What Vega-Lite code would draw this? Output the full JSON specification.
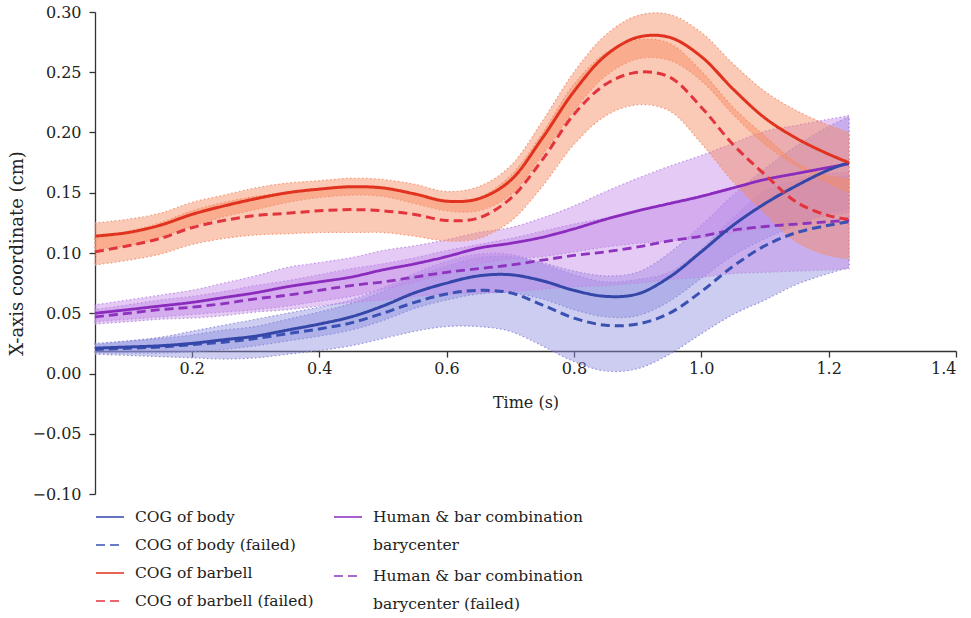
{
  "$schema": "https://vega.github.io/schema/vega-lite/v6.json",
  "width": 861,
  "height": 482,
  "autosize": {"type": "none"},
  "padding": {"left": 95, "top": 12, "right": 15, "bottom": 124},
  "config": {
    "font": "DejaVu Serif",
    "view": {"stroke": null},
    "axis": {"domainColor": "#333", "domainWidth": 1.3, "tickColor": "#333", "tickWidth": 1.3, "tickSize": 6, "labelFont": "DejaVu Serif", "labelFontSize": 16, "labelColor": "#222", "titleFont": "DejaVu Serif", "titleFontSize": 16, "titleFontWeight": "normal", "titleColor": "#222", "grid": false},
    "legend": {"labelFont": "DejaVu Serif", "labelFontSize": 15.5, "labelColor": "#222", "labelLimit": 400}
  },
  "data": {"values": [
    {"t": 0.048, "series": "COG of body (failed)", "v": 0.020, "lo": 0.016, "hi": 0.024},
    {"t": 0.1, "series": "COG of body (failed)", "v": 0.021, "lo": 0.015, "hi": 0.027},
    {"t": 0.15, "series": "COG of body (failed)", "v": 0.022, "lo": 0.014, "hi": 0.030},
    {"t": 0.2, "series": "COG of body (failed)", "v": 0.024, "lo": 0.013, "hi": 0.035},
    {"t": 0.25, "series": "COG of body (failed)", "v": 0.026, "lo": 0.012, "hi": 0.040},
    {"t": 0.3, "series": "COG of body (failed)", "v": 0.029, "lo": 0.013, "hi": 0.045},
    {"t": 0.35, "series": "COG of body (failed)", "v": 0.033, "lo": 0.016, "hi": 0.050},
    {"t": 0.4, "series": "COG of body (failed)", "v": 0.037, "lo": 0.019, "hi": 0.055},
    {"t": 0.45, "series": "COG of body (failed)", "v": 0.042, "lo": 0.023, "hi": 0.061},
    {"t": 0.5, "series": "COG of body (failed)", "v": 0.050, "lo": 0.029, "hi": 0.071},
    {"t": 0.55, "series": "COG of body (failed)", "v": 0.059, "lo": 0.035, "hi": 0.083},
    {"t": 0.6, "series": "COG of body (failed)", "v": 0.066, "lo": 0.039, "hi": 0.093},
    {"t": 0.65, "series": "COG of body (failed)", "v": 0.069, "lo": 0.039, "hi": 0.099},
    {"t": 0.7, "series": "COG of body (failed)", "v": 0.067, "lo": 0.035, "hi": 0.099},
    {"t": 0.75, "series": "COG of body (failed)", "v": 0.057, "lo": 0.023, "hi": 0.091},
    {"t": 0.8, "series": "COG of body (failed)", "v": 0.046, "lo": 0.010, "hi": 0.082},
    {"t": 0.85, "series": "COG of body (failed)", "v": 0.040, "lo": 0.002, "hi": 0.076},
    {"t": 0.9, "series": "COG of body (failed)", "v": 0.041, "lo": 0.004, "hi": 0.078},
    {"t": 0.95, "series": "COG of body (failed)", "v": 0.050, "lo": 0.016, "hi": 0.084},
    {"t": 1.0, "series": "COG of body (failed)", "v": 0.068, "lo": 0.033, "hi": 0.103},
    {"t": 1.05, "series": "COG of body (failed)", "v": 0.089, "lo": 0.049, "hi": 0.129},
    {"t": 1.1, "series": "COG of body (failed)", "v": 0.106, "lo": 0.061, "hi": 0.151},
    {"t": 1.15, "series": "COG of body (failed)", "v": 0.117, "lo": 0.074, "hi": 0.160},
    {"t": 1.2, "series": "COG of body (failed)", "v": 0.123, "lo": 0.083, "hi": 0.163},
    {"t": 1.232, "series": "COG of body (failed)", "v": 0.126, "lo": 0.088, "hi": 0.164},

    {"t": 0.048, "series": "COG of body", "v": 0.021, "lo": 0.017, "hi": 0.025},
    {"t": 0.1, "series": "COG of body", "v": 0.022, "lo": 0.017, "hi": 0.027},
    {"t": 0.15, "series": "COG of body", "v": 0.023, "lo": 0.017, "hi": 0.029},
    {"t": 0.2, "series": "COG of body", "v": 0.025, "lo": 0.018, "hi": 0.032},
    {"t": 0.25, "series": "COG of body", "v": 0.028, "lo": 0.020, "hi": 0.036},
    {"t": 0.3, "series": "COG of body", "v": 0.031, "lo": 0.023, "hi": 0.039},
    {"t": 0.35, "series": "COG of body", "v": 0.036, "lo": 0.027, "hi": 0.045},
    {"t": 0.4, "series": "COG of body", "v": 0.041, "lo": 0.031, "hi": 0.051},
    {"t": 0.45, "series": "COG of body", "v": 0.047, "lo": 0.036, "hi": 0.058},
    {"t": 0.5, "series": "COG of body", "v": 0.056, "lo": 0.044, "hi": 0.068},
    {"t": 0.55, "series": "COG of body", "v": 0.067, "lo": 0.054, "hi": 0.080},
    {"t": 0.6, "series": "COG of body", "v": 0.075, "lo": 0.061, "hi": 0.089},
    {"t": 0.65, "series": "COG of body", "v": 0.081, "lo": 0.066, "hi": 0.096},
    {"t": 0.7, "series": "COG of body", "v": 0.082, "lo": 0.067, "hi": 0.097},
    {"t": 0.75, "series": "COG of body", "v": 0.077, "lo": 0.062, "hi": 0.092},
    {"t": 0.8, "series": "COG of body", "v": 0.069, "lo": 0.053, "hi": 0.085},
    {"t": 0.85, "series": "COG of body", "v": 0.064, "lo": 0.047, "hi": 0.081},
    {"t": 0.9, "series": "COG of body", "v": 0.066, "lo": 0.048, "hi": 0.084},
    {"t": 0.95, "series": "COG of body", "v": 0.080, "lo": 0.060, "hi": 0.100},
    {"t": 1.0, "series": "COG of body", "v": 0.101, "lo": 0.079, "hi": 0.123},
    {"t": 1.05, "series": "COG of body", "v": 0.123, "lo": 0.098, "hi": 0.148},
    {"t": 1.1, "series": "COG of body", "v": 0.141, "lo": 0.112, "hi": 0.170},
    {"t": 1.15, "series": "COG of body", "v": 0.156, "lo": 0.123, "hi": 0.189},
    {"t": 1.2, "series": "COG of body", "v": 0.169, "lo": 0.133, "hi": 0.205},
    {"t": 1.232, "series": "COG of body", "v": 0.175, "lo": 0.137, "hi": 0.213},

    {"t": 0.048, "series": "Human & bar combination barycenter (failed)", "v": 0.047, "lo": 0.041, "hi": 0.053},
    {"t": 0.1, "series": "Human & bar combination barycenter (failed)", "v": 0.050, "lo": 0.043, "hi": 0.057},
    {"t": 0.15, "series": "Human & bar combination barycenter (failed)", "v": 0.053, "lo": 0.045, "hi": 0.061},
    {"t": 0.2, "series": "Human & bar combination barycenter (failed)", "v": 0.055, "lo": 0.046, "hi": 0.064},
    {"t": 0.25, "series": "Human & bar combination barycenter (failed)", "v": 0.058, "lo": 0.048, "hi": 0.068},
    {"t": 0.3, "series": "Human & bar combination barycenter (failed)", "v": 0.062, "lo": 0.051, "hi": 0.073},
    {"t": 0.35, "series": "Human & bar combination barycenter (failed)", "v": 0.065, "lo": 0.053, "hi": 0.077},
    {"t": 0.4, "series": "Human & bar combination barycenter (failed)", "v": 0.069, "lo": 0.056, "hi": 0.082},
    {"t": 0.45, "series": "Human & bar combination barycenter (failed)", "v": 0.073, "lo": 0.059, "hi": 0.087},
    {"t": 0.5, "series": "Human & bar combination barycenter (failed)", "v": 0.076, "lo": 0.061, "hi": 0.091},
    {"t": 0.55, "series": "Human & bar combination barycenter (failed)", "v": 0.080, "lo": 0.064, "hi": 0.096},
    {"t": 0.6, "series": "Human & bar combination barycenter (failed)", "v": 0.084, "lo": 0.066, "hi": 0.102},
    {"t": 0.65, "series": "Human & bar combination barycenter (failed)", "v": 0.087, "lo": 0.067, "hi": 0.107},
    {"t": 0.7, "series": "Human & bar combination barycenter (failed)", "v": 0.090, "lo": 0.068, "hi": 0.112},
    {"t": 0.75, "series": "Human & bar combination barycenter (failed)", "v": 0.094, "lo": 0.070, "hi": 0.118},
    {"t": 0.8, "series": "Human & bar combination barycenter (failed)", "v": 0.098, "lo": 0.072, "hi": 0.124},
    {"t": 0.85, "series": "Human & bar combination barycenter (failed)", "v": 0.101, "lo": 0.073, "hi": 0.129},
    {"t": 0.9, "series": "Human & bar combination barycenter (failed)", "v": 0.105, "lo": 0.075, "hi": 0.135},
    {"t": 0.95, "series": "Human & bar combination barycenter (failed)", "v": 0.110, "lo": 0.078, "hi": 0.142},
    {"t": 1.0, "series": "Human & bar combination barycenter (failed)", "v": 0.114, "lo": 0.080, "hi": 0.148},
    {"t": 1.05, "series": "Human & bar combination barycenter (failed)", "v": 0.119, "lo": 0.083, "hi": 0.155},
    {"t": 1.1, "series": "Human & bar combination barycenter (failed)", "v": 0.122, "lo": 0.084, "hi": 0.160},
    {"t": 1.15, "series": "Human & bar combination barycenter (failed)", "v": 0.124, "lo": 0.085, "hi": 0.163},
    {"t": 1.2, "series": "Human & bar combination barycenter (failed)", "v": 0.126, "lo": 0.086, "hi": 0.166},
    {"t": 1.232, "series": "Human & bar combination barycenter (failed)", "v": 0.127, "lo": 0.087, "hi": 0.167},

    {"t": 0.048, "series": "Human & bar combination barycenter", "v": 0.050, "lo": 0.043, "hi": 0.057},
    {"t": 0.1, "series": "Human & bar combination barycenter", "v": 0.053, "lo": 0.045, "hi": 0.061},
    {"t": 0.15, "series": "Human & bar combination barycenter", "v": 0.056, "lo": 0.047, "hi": 0.065},
    {"t": 0.2, "series": "Human & bar combination barycenter", "v": 0.059, "lo": 0.049, "hi": 0.069},
    {"t": 0.25, "series": "Human & bar combination barycenter", "v": 0.063, "lo": 0.051, "hi": 0.075},
    {"t": 0.3, "series": "Human & bar combination barycenter", "v": 0.067, "lo": 0.053, "hi": 0.081},
    {"t": 0.35, "series": "Human & bar combination barycenter", "v": 0.072, "lo": 0.056, "hi": 0.088},
    {"t": 0.4, "series": "Human & bar combination barycenter", "v": 0.076, "lo": 0.060, "hi": 0.092},
    {"t": 0.45, "series": "Human & bar combination barycenter", "v": 0.080, "lo": 0.064, "hi": 0.096},
    {"t": 0.5, "series": "Human & bar combination barycenter", "v": 0.086, "lo": 0.070, "hi": 0.102},
    {"t": 0.55, "series": "Human & bar combination barycenter", "v": 0.091, "lo": 0.076, "hi": 0.106},
    {"t": 0.6, "series": "Human & bar combination barycenter", "v": 0.097, "lo": 0.083, "hi": 0.111},
    {"t": 0.65, "series": "Human & bar combination barycenter", "v": 0.104, "lo": 0.091, "hi": 0.117},
    {"t": 0.7, "series": "Human & bar combination barycenter", "v": 0.108, "lo": 0.095, "hi": 0.121},
    {"t": 0.75, "series": "Human & bar combination barycenter", "v": 0.113, "lo": 0.097, "hi": 0.129},
    {"t": 0.8, "series": "Human & bar combination barycenter", "v": 0.120, "lo": 0.101, "hi": 0.139},
    {"t": 0.85, "series": "Human & bar combination barycenter", "v": 0.128, "lo": 0.105, "hi": 0.151},
    {"t": 0.9, "series": "Human & bar combination barycenter", "v": 0.135, "lo": 0.108, "hi": 0.162},
    {"t": 0.95, "series": "Human & bar combination barycenter", "v": 0.141, "lo": 0.110, "hi": 0.172},
    {"t": 1.0, "series": "Human & bar combination barycenter", "v": 0.147, "lo": 0.113, "hi": 0.181},
    {"t": 1.05, "series": "Human & bar combination barycenter", "v": 0.154, "lo": 0.117, "hi": 0.191},
    {"t": 1.1, "series": "Human & bar combination barycenter", "v": 0.161, "lo": 0.121, "hi": 0.201},
    {"t": 1.15, "series": "Human & bar combination barycenter", "v": 0.166, "lo": 0.126, "hi": 0.206},
    {"t": 1.2, "series": "Human & bar combination barycenter", "v": 0.171, "lo": 0.131, "hi": 0.211},
    {"t": 1.232, "series": "Human & bar combination barycenter", "v": 0.174, "lo": 0.134, "hi": 0.214},

    {"t": 0.048, "series": "COG of barbell (failed)", "v": 0.101, "lo": 0.090, "hi": 0.112},
    {"t": 0.1, "series": "COG of barbell (failed)", "v": 0.106, "lo": 0.094, "hi": 0.118},
    {"t": 0.15, "series": "COG of barbell (failed)", "v": 0.112, "lo": 0.099, "hi": 0.125},
    {"t": 0.2, "series": "COG of barbell (failed)", "v": 0.121, "lo": 0.107, "hi": 0.135},
    {"t": 0.25, "series": "COG of barbell (failed)", "v": 0.127, "lo": 0.112, "hi": 0.142},
    {"t": 0.3, "series": "COG of barbell (failed)", "v": 0.131, "lo": 0.115, "hi": 0.147},
    {"t": 0.35, "series": "COG of barbell (failed)", "v": 0.133, "lo": 0.116, "hi": 0.150},
    {"t": 0.4, "series": "COG of barbell (failed)", "v": 0.135, "lo": 0.117, "hi": 0.153},
    {"t": 0.45, "series": "COG of barbell (failed)", "v": 0.136, "lo": 0.117, "hi": 0.155},
    {"t": 0.5, "series": "COG of barbell (failed)", "v": 0.135, "lo": 0.117, "hi": 0.154},
    {"t": 0.55, "series": "COG of barbell (failed)", "v": 0.132, "lo": 0.114, "hi": 0.150},
    {"t": 0.6, "series": "COG of barbell (failed)", "v": 0.127, "lo": 0.110, "hi": 0.144},
    {"t": 0.65, "series": "COG of barbell (failed)", "v": 0.129, "lo": 0.112, "hi": 0.146},
    {"t": 0.7, "series": "COG of barbell (failed)", "v": 0.145, "lo": 0.126, "hi": 0.164},
    {"t": 0.75, "series": "COG of barbell (failed)", "v": 0.177, "lo": 0.155, "hi": 0.199},
    {"t": 0.8, "series": "COG of barbell (failed)", "v": 0.215, "lo": 0.190, "hi": 0.240},
    {"t": 0.85, "series": "COG of barbell (failed)", "v": 0.240, "lo": 0.214, "hi": 0.266},
    {"t": 0.9, "series": "COG of barbell (failed)", "v": 0.250, "lo": 0.223, "hi": 0.277},
    {"t": 0.95, "series": "COG of barbell (failed)", "v": 0.246, "lo": 0.218, "hi": 0.274},
    {"t": 1.0, "series": "COG of barbell (failed)", "v": 0.221, "lo": 0.191, "hi": 0.251},
    {"t": 1.05, "series": "COG of barbell (failed)", "v": 0.190, "lo": 0.159, "hi": 0.221},
    {"t": 1.1, "series": "COG of barbell (failed)", "v": 0.165, "lo": 0.133, "hi": 0.197},
    {"t": 1.15, "series": "COG of barbell (failed)", "v": 0.142, "lo": 0.109, "hi": 0.175},
    {"t": 1.2, "series": "COG of barbell (failed)", "v": 0.131, "lo": 0.098, "hi": 0.164},
    {"t": 1.232, "series": "COG of barbell (failed)", "v": 0.128, "lo": 0.095, "hi": 0.161},

    {"t": 0.048, "series": "COG of barbell", "v": 0.114, "lo": 0.103, "hi": 0.125},
    {"t": 0.1, "series": "COG of barbell", "v": 0.117, "lo": 0.106, "hi": 0.128},
    {"t": 0.15, "series": "COG of barbell", "v": 0.123, "lo": 0.113, "hi": 0.133},
    {"t": 0.2, "series": "COG of barbell", "v": 0.132, "lo": 0.122, "hi": 0.142},
    {"t": 0.25, "series": "COG of barbell", "v": 0.139, "lo": 0.130, "hi": 0.148},
    {"t": 0.3, "series": "COG of barbell", "v": 0.145, "lo": 0.136, "hi": 0.154},
    {"t": 0.35, "series": "COG of barbell", "v": 0.150, "lo": 0.142, "hi": 0.158},
    {"t": 0.4, "series": "COG of barbell", "v": 0.153, "lo": 0.146, "hi": 0.160},
    {"t": 0.45, "series": "COG of barbell", "v": 0.155, "lo": 0.148, "hi": 0.162},
    {"t": 0.5, "series": "COG of barbell", "v": 0.154, "lo": 0.147, "hi": 0.161},
    {"t": 0.55, "series": "COG of barbell", "v": 0.149, "lo": 0.141, "hi": 0.157},
    {"t": 0.6, "series": "COG of barbell", "v": 0.143, "lo": 0.135, "hi": 0.151},
    {"t": 0.65, "series": "COG of barbell", "v": 0.145, "lo": 0.135, "hi": 0.155},
    {"t": 0.7, "series": "COG of barbell", "v": 0.160, "lo": 0.148, "hi": 0.172},
    {"t": 0.75, "series": "COG of barbell", "v": 0.195, "lo": 0.181, "hi": 0.209},
    {"t": 0.8, "series": "COG of barbell", "v": 0.234, "lo": 0.218, "hi": 0.250},
    {"t": 0.85, "series": "COG of barbell", "v": 0.264, "lo": 0.247, "hi": 0.281},
    {"t": 0.9, "series": "COG of barbell", "v": 0.279, "lo": 0.261, "hi": 0.297},
    {"t": 0.95, "series": "COG of barbell", "v": 0.279, "lo": 0.260, "hi": 0.298},
    {"t": 1.0, "series": "COG of barbell", "v": 0.263, "lo": 0.243, "hi": 0.283},
    {"t": 1.05, "series": "COG of barbell", "v": 0.236, "lo": 0.215, "hi": 0.257},
    {"t": 1.1, "series": "COG of barbell", "v": 0.212, "lo": 0.190, "hi": 0.234},
    {"t": 1.15, "series": "COG of barbell", "v": 0.195, "lo": 0.172, "hi": 0.218},
    {"t": 1.2, "series": "COG of barbell", "v": 0.182, "lo": 0.158, "hi": 0.206},
    {"t": 1.232, "series": "COG of barbell", "v": 0.175, "lo": 0.150, "hi": 0.200}
  ]},
  "encoding": {
    "x": {"field": "t", "type": "quantitative", "scale": {"domain": [0.048, 1.4], "nice": false, "zero": false},
      "axis": {"title": "Time (s)", "values": [0.2, 0.4, 0.6, 0.8, 1.0, 1.2, 1.4], "format": ".1f", "offset": -143, "labelPadding": 3, "titlePadding": 18}}
  },
  "layer": [
    {
      "mark": {"type": "area", "interpolate": "catmull-rom", "fillOpacity": 0.45, "strokeWidth": 1.2, "strokeDash": [1.5, 2.5], "strokeOpacity": 0.9},
      "encoding": {
        "y": {"field": "lo", "type": "quantitative", "scale": {"domain": [-0.1, 0.3], "nice": false},
          "axis": {"title": "X-axis coordinate (cm)", "values": [-0.1, -0.05, 0, 0.05, 0.1, 0.15, 0.2, 0.25, 0.3], "format": ".2f", "labelPadding": 8, "titlePadding": 5, "titleFontSize": 18}},
        "y2": {"field": "hi"},
        "fill": {"field": "series", "type": "nominal", "legend": null,
          "scale": {"domain": ["COG of body (failed)", "COG of body", "Human & bar combination barycenter (failed)", "Human & bar combination barycenter", "COG of barbell (failed)", "COG of barbell"],
            "range": ["#9090E0", "#9090E0", "#C48AE8", "#C48AE8", "#F78A5E", "#F78A5E"]}},
        "stroke": {"field": "series", "type": "nominal", "legend": null,
          "scale": {"domain": ["COG of body (failed)", "COG of body", "Human & bar combination barycenter (failed)", "Human & bar combination barycenter", "COG of barbell (failed)", "COG of barbell"],
            "range": ["#8A8AD8", "#8A8AD8", "#B88AE0", "#B88AE0", "#F4906E", "#F4906E"]}}
      }
    },
    {
      "transform": [{"filter": {"field": "series", "oneOf": ["Human & bar combination barycenter", "Human & bar combination barycenter (failed)"]}}],
      "mark": {"type": "line", "interpolate": "catmull-rom", "strokeWidth": 2.8},
      "encoding": {
        "y": {"field": "v", "type": "quantitative", "scale": {"domain": [-0.1, 0.3], "nice": false},
          "axis": {"title": "X-axis coordinate (cm)", "values": [-0.1, -0.05, 0, 0.05, 0.1, 0.15, 0.2, 0.25, 0.3], "format": ".2f", "labelPadding": 8, "titlePadding": 5, "titleFontSize": 18}},
        "color": {"field": "series", "type": "nominal",
          "scale": {"domain": ["Human & bar combination barycenter", "Human & bar combination barycenter (failed)"], "range": ["#8A2BBE", "#8E33BE"]},
          "legend": {"title": null, "orient": "none", "legendX": 238, "legendY": 490, "direction": "vertical", "symbolType": "stroke", "symbolSize": 784, "labelOffset": 10, "rowPadding": 7, "padding": 0,
            "labelExpr": "datum.label == 'Human & bar combination barycenter' ? ['Human & bar combination', 'barycenter'] : ['Human & bar combination', 'barycenter (failed)']",
            "encode": {"symbols": {"update": {"strokeWidth": {"value": 1.6}}}, "labels": {"update": {"lineHeight": {"value": 28}}}}}},
        "strokeDash": {"field": "series", "type": "nominal",
          "scale": {"domain": ["Human & bar combination barycenter", "Human & bar combination barycenter (failed)"], "range": [[1, 0], [9, 5]]},
          "legend": {"title": null, "orient": "none", "legendX": 238, "legendY": 490, "direction": "vertical", "symbolType": "stroke", "symbolSize": 784, "labelOffset": 10, "rowPadding": 7, "padding": 0,
            "labelExpr": "datum.label == 'Human & bar combination barycenter' ? ['Human & bar combination', 'barycenter'] : ['Human & bar combination', 'barycenter (failed)']",
            "encode": {"symbols": {"update": {"strokeWidth": {"value": 1.6}}}, "labels": {"update": {"lineHeight": {"value": 28}}}}}}
      }
    },
    {
      "transform": [{"filter": {"field": "series", "oneOf": ["COG of body", "COG of body (failed)", "COG of barbell", "COG of barbell (failed)"]}}],
      "mark": {"type": "line", "interpolate": "catmull-rom", "strokeWidth": 3},
      "encoding": {
        "y": {"field": "v", "type": "quantitative", "scale": {"domain": [-0.1, 0.3], "nice": false},
          "axis": {"title": "X-axis coordinate (cm)", "values": [-0.1, -0.05, 0, 0.05, 0.1, 0.15, 0.2, 0.25, 0.3], "format": ".2f", "labelPadding": 8, "titlePadding": 5, "titleFontSize": 18}},
        "color": {"field": "series", "type": "nominal",
          "scale": {"domain": ["COG of body", "COG of body (failed)", "COG of barbell", "COG of barbell (failed)"], "range": ["#3447A8", "#3A50B2", "#E0321E", "#E2343C"]},
          "legend": {"title": null, "orient": "none", "legendX": 0, "legendY": 490, "direction": "vertical", "symbolType": "stroke", "symbolSize": 784, "labelOffset": 10, "rowPadding": 4, "padding": 0,
            "encode": {"symbols": {"update": {"strokeWidth": {"value": 1.6}}}}}},
        "strokeDash": {"field": "series", "type": "nominal",
          "scale": {"domain": ["COG of body", "COG of body (failed)", "COG of barbell", "COG of barbell (failed)"], "range": [[1, 0], [9, 5], [1, 0], [9, 5]]},
          "legend": {"title": null, "orient": "none", "legendX": 0, "legendY": 490, "direction": "vertical", "symbolType": "stroke", "symbolSize": 784, "labelOffset": 10, "rowPadding": 4, "padding": 0,
            "encode": {"symbols": {"update": {"strokeWidth": {"value": 1.6}}}}}}
      }
    }
  ],
  "resolve": {"scale": {"color": "independent", "strokeDash": "independent"}}
}
